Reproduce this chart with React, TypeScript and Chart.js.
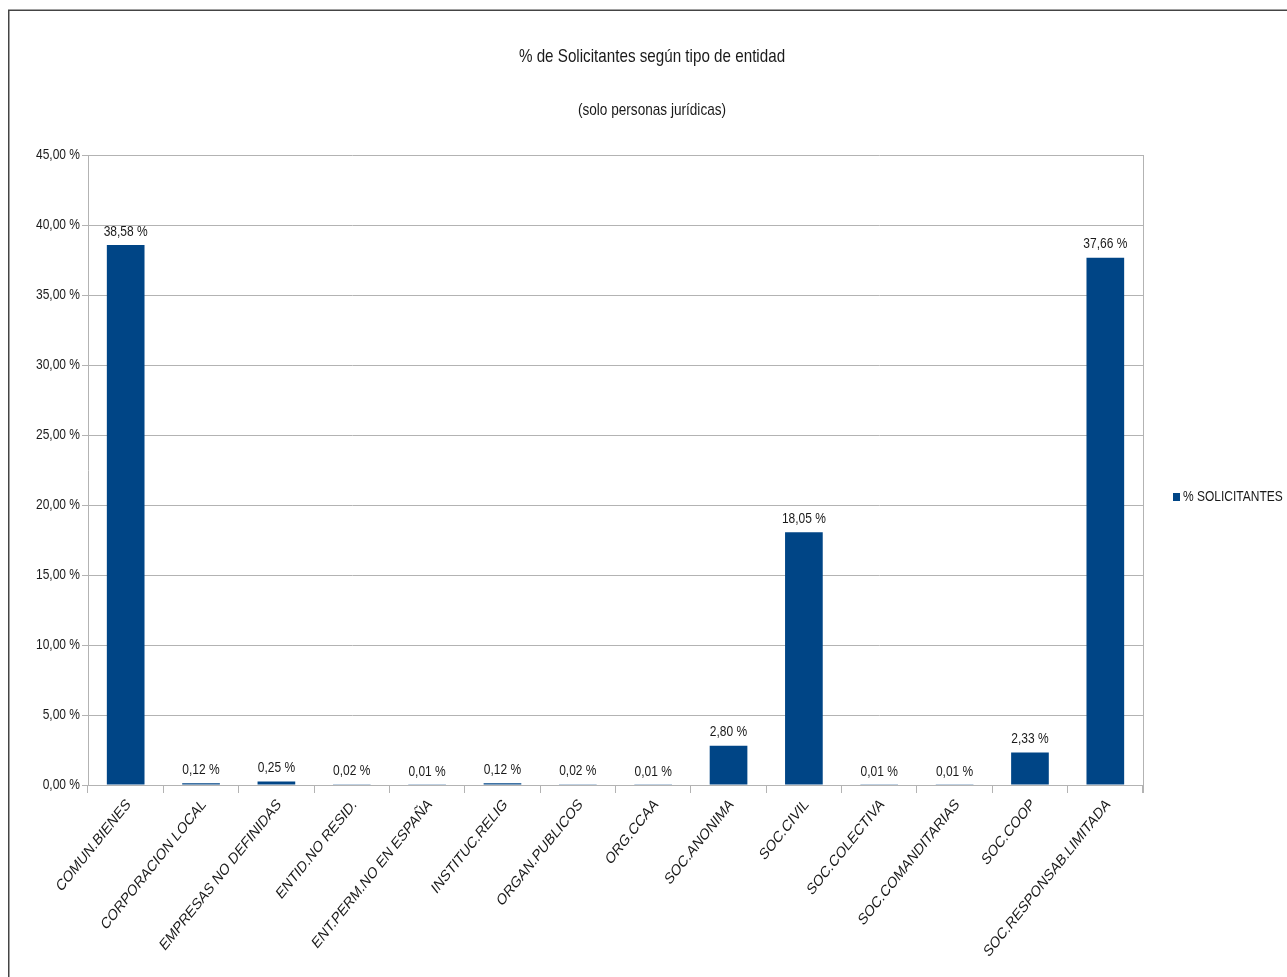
import React, { useEffect, useRef } from "react";
import { Chart, registerables } from "chart.js";

Chart.register(...registerables);

const categories = [
  "COMUN.BIENES",
  "CORPORACION LOCAL",
  "EMPRESAS NO DEFINIDAS",
  "ENTID.NO RESID.",
  "ENT.PERM.NO EN ESPAÑA",
  "INSTITUC.RELIG",
  "ORGAN.PUBLICOS",
  "ORG.CCAA",
  "SOC.ANONIMA",
  "SOC.CIVIL",
  "SOC.COLECTIVA",
  "SOC.COMANDITARIAS",
  "SOC.COOP",
  "SOC.RESPONSAB.LIMITADA",
];

const solicitantes = [38.58, 0.12, 0.25, 0.02, 0.01, 0.12, 0.02, 0.01, 2.8, 18.05, 0.01, 0.01, 2.33, 37.66];

const seriesName = "% SOLICITANTES";
const titleText = "% de Solicitantes según tipo de entidad";
const subtitleText = "(solo personas jurídicas)";
const yMin = 0;
const yMax = 45;
const yStep = 5;

const FONT = "'Liberation Sans', Arial, sans-serif";
const SX = 0.8; // horizontal condensation of all text
const BAR_COLOR = "#004586";
const TEXT_COLOR = "#1a1a1a";
const GRID_COLOR = "#b3b3b3";

const fmt = (v: number) => v.toFixed(2).replace(".", ",") + " %";

function drawText(
  ctx: CanvasRenderingContext2D,
  text: string,
  x: number,
  y: number,
  size: number,
  align: CanvasTextAlign,
  baseline: CanvasTextBaseline,
  rotation = 0
) {
  ctx.save();
  ctx.translate(x, y);
  ctx.scale(SX, 1);
  if (rotation) ctx.rotate(rotation);
  ctx.font = `${size}px ${FONT}`;
  ctx.fillStyle = TEXT_COLOR;
  ctx.textAlign = align;
  ctx.textBaseline = baseline;
  ctx.fillText(text, 0, 0);
  ctx.restore();
}

export default function App() {
  const ref = useRef<HTMLCanvasElement | null>(null);

  useEffect(() => {
    document.body.style.margin = "0";
    document.body.style.overflow = "hidden";
    const canvas = ref.current;
    if (!canvas) return;

    const framePlugin = {
      id: "framePlugin",
      beforeDraw(chart: any) {
        const ctx = chart.ctx;
        ctx.save();
        ctx.fillStyle = "#ffffff";
        ctx.fillRect(0, 0, chart.width, chart.height);
        ctx.strokeStyle = "#444444";
        ctx.lineWidth = 1.5;
        ctx.beginPath();
        ctx.moveTo(8.75, chart.height);
        ctx.lineTo(8.75, 10.25);
        ctx.lineTo(chart.width, 10.25);
        ctx.stroke();
        ctx.restore();
      },
      afterDraw(chart: any) {
        const ctx = chart.ctx;
        const a = chart.chartArea;
        ctx.save();
        ctx.strokeStyle = GRID_COLOR;
        ctx.lineWidth = 1;
        ctx.beginPath();
        ctx.moveTo(Math.round(a.right) + 0.5, a.top);
        ctx.lineTo(Math.round(a.right) + 0.5, a.bottom + 8);
        ctx.stroke();
        ctx.restore();

        // title + subtitle
        const cx = 652;
        drawText(ctx, titleText, cx, 57, 19, "center", "middle");
        drawText(ctx, subtitleText, cx, 110, 17, "center", "middle");

        // y tick labels
        const ys = chart.scales.y;
        ys.ticks.forEach((t: any) => {
          drawText(ctx, fmt(Number(t.value)), a.left - 8, ys.getPixelForValue(t.value), 15, "right", "middle");
        });

        // x tick labels (rotated 45deg)
        const xs = chart.scales.x;
        chart.data.labels.forEach((lab: string, i: number) => {
          const px = xs.getPixelForValue(i);
          drawText(ctx, lab, px + 3, a.bottom + 17, 16, "right", "middle", -Math.PI / 4);
        });

        // legend
        const lx = a.right + 30;
        const ly = 497;
        ctx.save();
        ctx.fillStyle = BAR_COLOR;
        ctx.fillRect(lx, ly - 4, 7, 8);
        ctx.restore();
        drawText(ctx, seriesName, lx + 10, ly, 15, "left", "middle");
      },
    };

    const valueLabels = {
      id: "valueLabels",
      afterDatasetsDraw(chart: any) {
        const ctx = chart.ctx;
        const meta = chart.getDatasetMeta(0);
        const data = chart.data.datasets[0].data as number[];
        meta.data.forEach((bar: any, i: number) => {
          drawText(ctx, fmt(data[i]), bar.x, bar.y - 6, 15, "center", "bottom");
        });
      },
    };

    const chart = new Chart(canvas, {
      type: "bar",
      data: {
        labels: categories,
        datasets: [
          {
            label: seriesName,
            data: solicitantes,
            backgroundColor: BAR_COLOR,
            borderWidth: 0,
            categoryPercentage: 1,
            barPercentage: 0.5,
          },
        ],
      },
      options: {
        responsive: false,
        animation: false,
        layout: { padding: { left: 8, top: 155, right: 144, bottom: 0 } },
        plugins: {
          legend: { display: false },
          tooltip: { enabled: false },
          title: { display: false },
        },
        scales: {
          x: {
            offset: true,
            grid: {
              display: true,
              offset: true,
              drawOnChartArea: false,
              drawTicks: true,
              tickLength: 8,
              color: GRID_COLOR,
            },
            border: { display: true, color: GRID_COLOR },
            ticks: { display: false, autoSkip: false },
            afterFit(scale: any) {
              scale.height = 192;
            },
          },
          y: {
            min: yMin,
            max: yMax,
            grid: { color: GRID_COLOR, tickLength: 6 },
            border: { display: true, color: GRID_COLOR },
            ticks: { display: false, stepSize: yStep },
            afterFit(scale: any) {
              scale.width = 80;
            },
          },
        },
      },
      plugins: [framePlugin, valueLabels],
    } as any);

    return () => chart.destroy();
  }, []);

  return (
    <div style={{ position: "fixed", left: 0, top: 0, width: 1287, height: 977 }}>
      <canvas ref={ref} width={1287} height={977} style={{ display: "block" }} />
    </div>
  );
}
